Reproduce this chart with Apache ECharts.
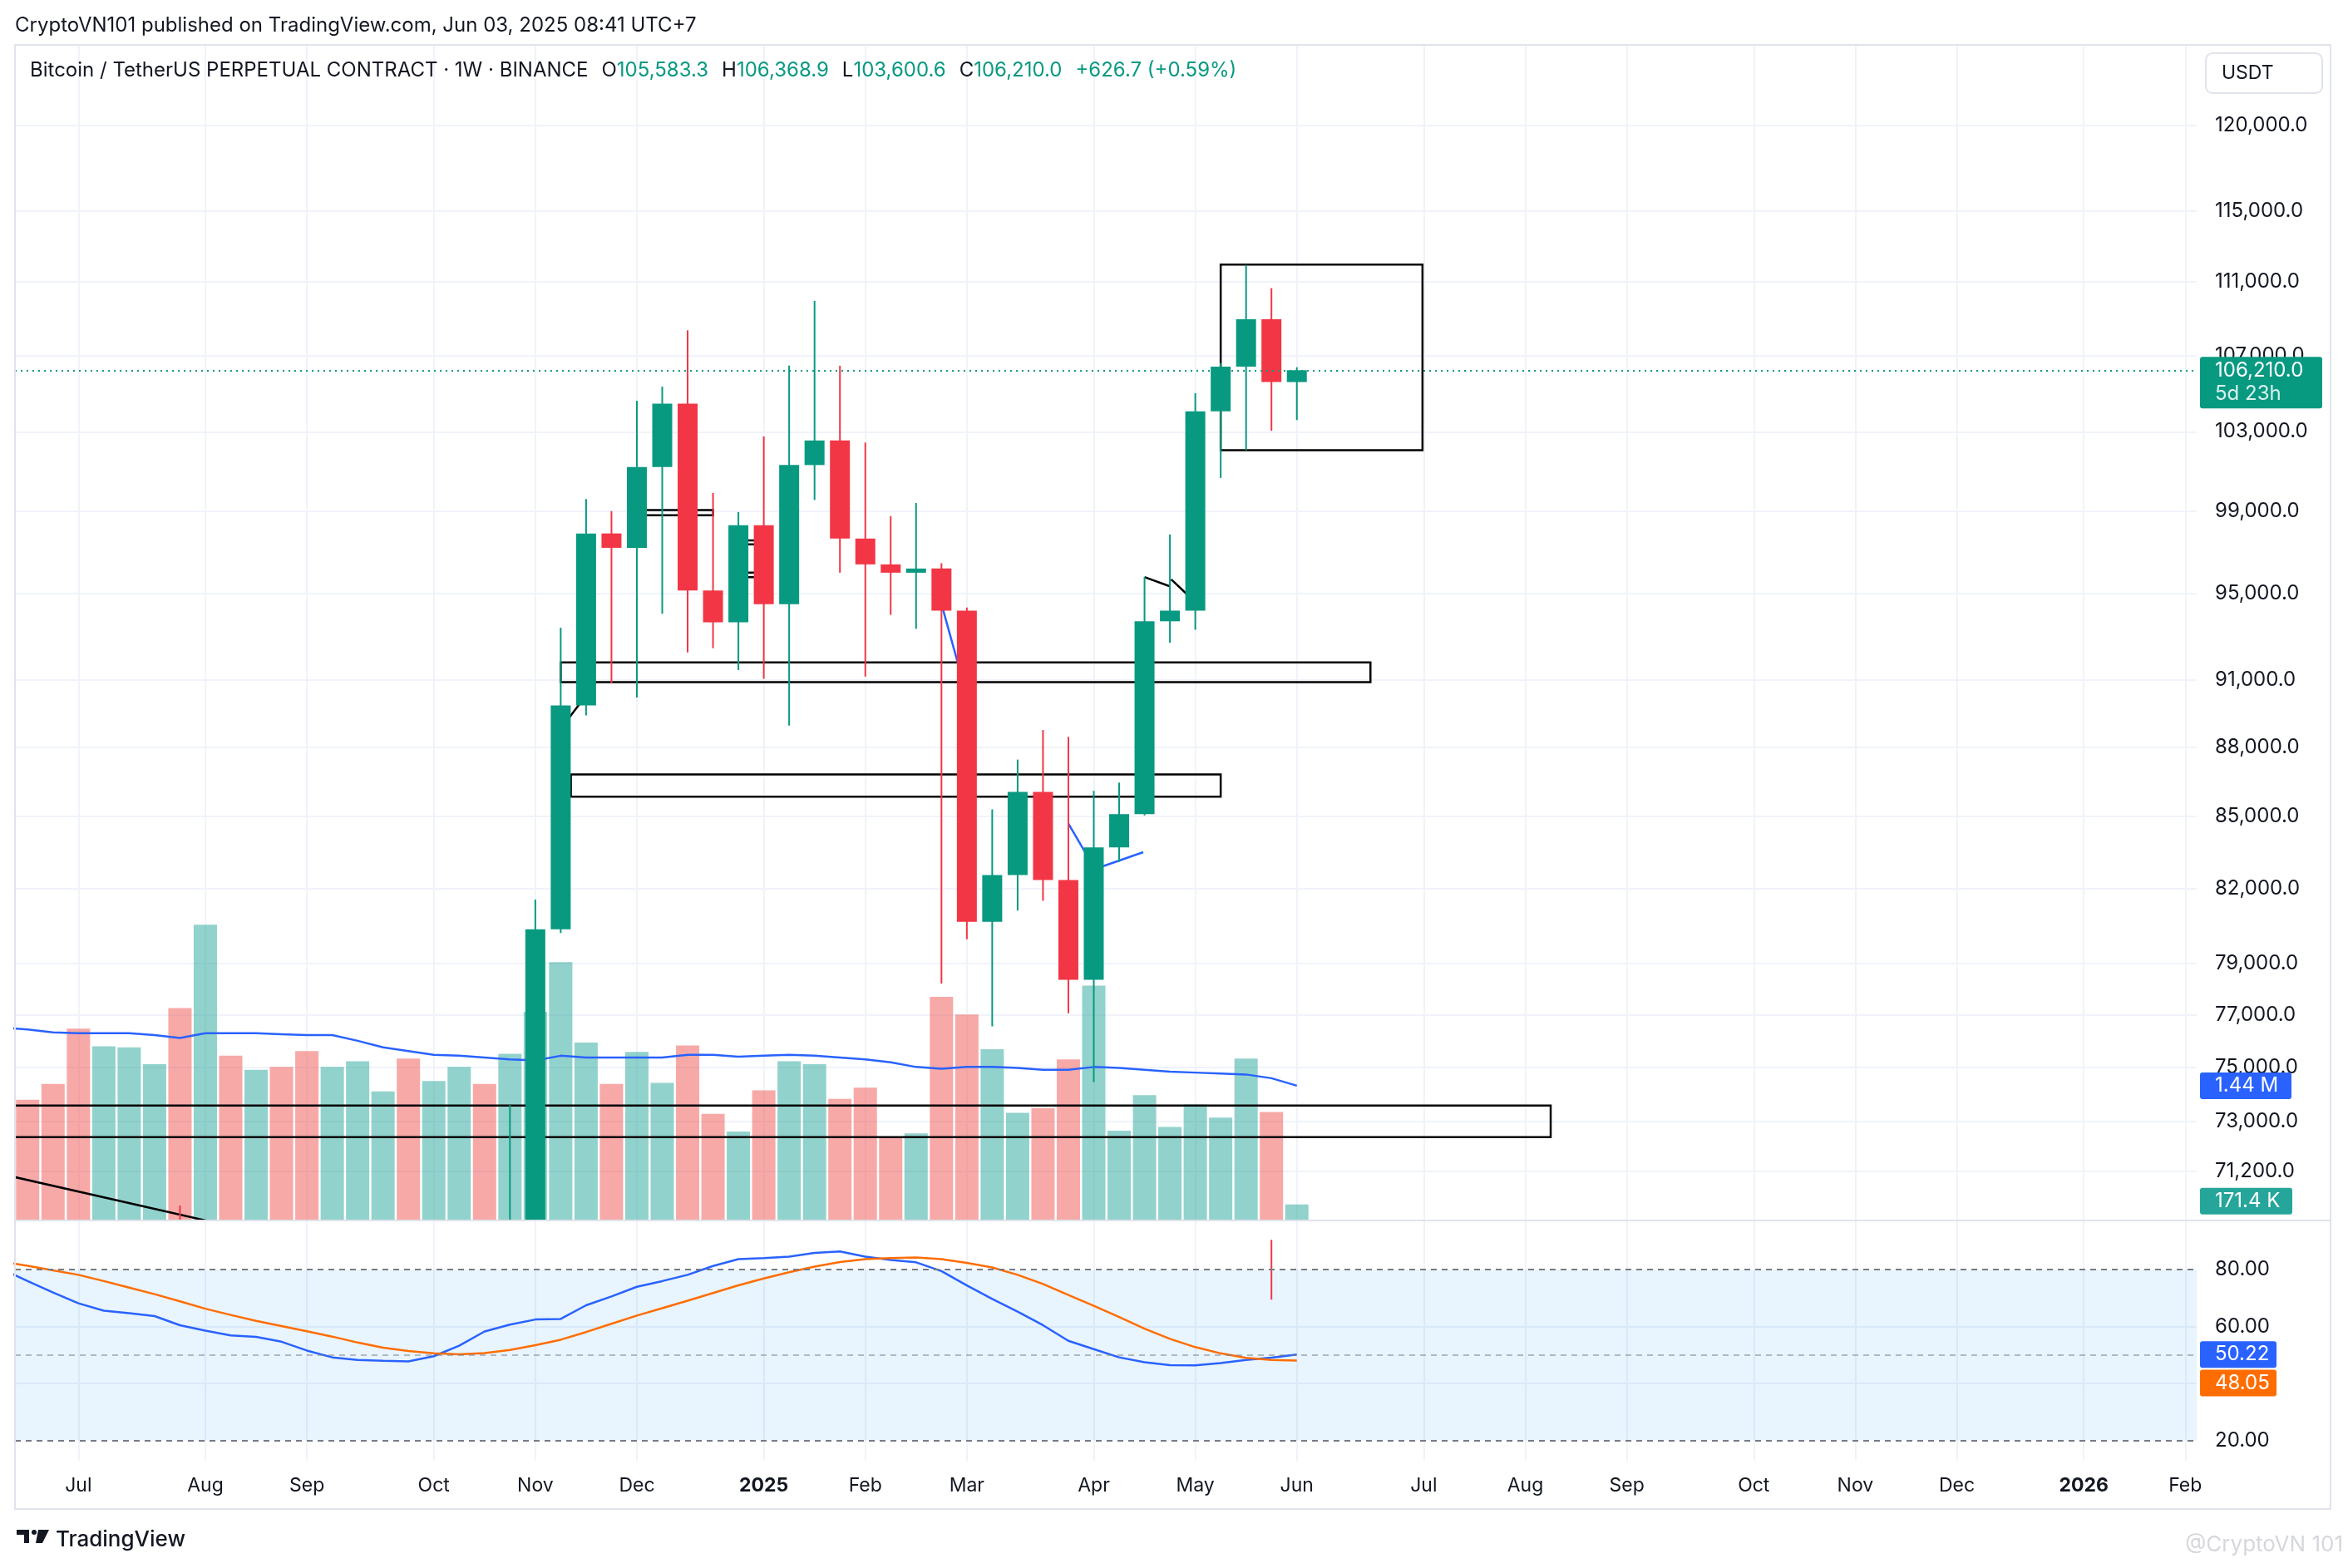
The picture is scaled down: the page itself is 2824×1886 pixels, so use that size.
<!DOCTYPE html>
<html>
<head>
<meta charset="utf-8">
<title>BTCUSDT.P 1W</title>
<script src="https://cdn.jsdelivr.net/npm/echarts@6/dist/echarts.min.js"></script>
<style>
  html, body { margin: 0; padding: 0; background: #fff; }
  #main { width: 2824px; height: 1886px; }
</style>
</head>
<body>
<div id="main"></div>
<script>
// weekly bars, index 0 = week of 2024-06-10 (sits just left of the visible area)
const weekStart = [];
(function () {
  const t0 = Date.UTC(2024, 5, 10);
  for (let i = 0; i < 87; i++) weekStart.push(new Date(t0 + i * 7 * 864e5).toISOString().slice(0, 10));
})();

const opens  = [69650, 66600, 64250, 62700, 55850, 60800, 68150, 68250, 58150, 58700, 58450, 64200, 57300, 54850, 59150, 63550, 65600, 62850, 62900, 69000, 67950, 68750, 80350, 89850, 97900, 97200, 101200, 104450, 95150, 93650, 98300, 94500, 101300, 102550, 97650, 96400, 96000, 96200, 94200, 80650, 82550, 86050, 82350, 78350, 83700, 85100, 93700, 94200, 104050, 106400, 108950, 105583.3];
const highs  = [70190, 66950, 64500, 63800, 61400, 68400, 68480, 70000, 62700, 61800, 65000, 64900, 59800, 60600, 64100, 66500, 65700, 64450, 69400, 69450, 73600, 81550, 93400, 99600, 99000, 104600, 105350, 108350, 99900, 98950, 102750, 106450, 109950, 106450, 102450, 98750, 99400, 96450, 94350, 85300, 87450, 88750, 88450, 86100, 86450, 95800, 97850, 105000, 106600, 111950, 110650, 106368.9];
const lows   = [65060, 63350, 58400, 53500, 54250, 59900, 63400, 57100, 49000, 56100, 57800, 57200, 52500, 54550, 57500, 62700, 59800, 58900, 62500, 65100, 67500, 66800, 80200, 89400, 90850, 90200, 94050, 92250, 92450, 91450, 91050, 88950, 99550, 96000, 91150, 94000, 93350, 78200, 79950, 76550, 81100, 81500, 77050, 74450, 83100, 85050, 92700, 93300, 100650, 102050, 103050, 103600.6];
const closes = [66600, 64250, 62700, 55850, 60800, 68150, 68250, 58150, 58700, 58450, 64200, 57300, 54850, 59150, 63550, 65600, 62850, 62900, 69000, 67950, 68750, 80350, 89850, 97900, 97200, 101200, 104450, 95150, 93650, 98300, 94500, 101300, 102550, 97650, 96400, 96000, 96200, 94200, 80650, 82550, 86050, 82350, 78350, 83700, 85100, 93700, 94200, 104050, 106400, 108950, 105583.3, 106210.0];

// volume in millions, and its moving average
const volumes   = [1.6, 1.29, 1.46, 2.05, 1.86, 1.85, 1.67, 2.27, 3.16, 1.76, 1.61, 1.64, 1.81, 1.64, 1.70, 1.38, 1.73, 1.49, 1.64, 1.46, 1.78, 2.23, 2.76, 1.90, 1.46, 1.80, 1.47, 1.87, 1.14, 0.95, 1.39, 1.70, 1.67, 1.30, 1.42, 0.88, 0.93, 2.39, 2.20, 1.83, 1.15, 1.20, 1.72, 2.51, 0.96, 1.34, 1.00, 1.24, 1.10, 1.73, 1.16, 0.1714];
const volumeMA  = [2.06, 2.04, 2.01, 2.0, 2.0, 2.0, 1.98, 1.95, 2.0, 2.0, 2.0, 1.99, 1.98, 1.98, 1.92, 1.85, 1.81, 1.77, 1.76, 1.74, 1.72, 1.71, 1.76, 1.74, 1.74, 1.74, 1.74, 1.77, 1.77, 1.75, 1.76, 1.77, 1.76, 1.74, 1.72, 1.69, 1.64, 1.62, 1.64, 1.64, 1.63, 1.61, 1.61, 1.64, 1.63, 1.61, 1.59, 1.58, 1.57, 1.56, 1.52, 1.44];

// stoch RSI
const stochK = [80.2, 76, 72, 68.2, 65.6, 64.7, 63.7, 60.5, 58.6, 56.9, 56.4, 54.7, 51.6, 49.2, 48.3, 48, 47.8, 49.6, 53.3, 58.3, 60.7, 62.5, 62.7, 67.5, 70.6, 74, 76, 78.2, 81.3, 83.7, 84.1, 84.6, 85.9, 86.4, 84.6, 83.4, 82.6, 79.5, 74.5, 69.7, 65.3, 60.5, 55, 52.1, 49.2, 47.5, 46.5, 46.4, 47.2, 48.3, 49.1, 50.22];
const stochD = [82.8, 81.4, 79.8, 78.2, 76, 73.7, 71.4, 68.9, 66.3, 64.1, 62, 60.2, 58.4, 56.5, 54.4, 52.6, 51.4, 50.6, 50.3, 50.7, 51.8, 53.5, 55.4, 58.1, 61, 63.9, 66.5, 69.1, 71.8, 74.5, 76.9, 79.1, 81.1, 82.7, 83.7, 84.1, 84.3, 83.7, 82.4, 80.8, 78.2, 75, 71.1, 67.3, 63.4, 59.3, 55.7, 52.8, 50.6, 49, 48.3, 48.05];

// axis ticks
const priceTicks = [120000, 115000, 111000, 107000, 103000, 99000, 95000, 91000, 88000, 85000, 82000, 79000, 77000, 75000, 73000, 71200];
const stochTicks = [20, 40, 60, 80];
const stochGridLevels = [40, 60];
const monthTickIdx = [3, 8, 12, 17, 21, 25, 30, 34, 38, 43, 47, 51, 56, 60, 64, 69, 73, 77, 82, 86];
const monthTickLabels = ['Jul', 'Aug', 'Sep', 'Oct', 'Nov', 'Dec', '2025', 'Feb', 'Mar', 'Apr', 'May', 'Jun', 'Jul', 'Aug', 'Sep', 'Oct', 'Nov', 'Dec', '2026', 'Feb'];

// drawings on the chart: [week0, price0, week1, price1]
const boxes = [
  [48, 102050, 55.95, 111960],
  [22, 90900, 53.9, 91800],
  [22.4, 85850, 48, 86800],
  [0.3, 72430, 61, 73580],
  [25, 98790, 28, 99050],
  [29, 97370, 30, 97560],
  [29, 95790, 30, 96000]
];
const blackSegments = [
  [0, 71100, 8.3, 69420],
  [22, 88800, 23, 90300],
  [45, 95790, 46, 95350],
  [46.05, 95680, 47, 94600]
];
const blueSegments = [
  [37.05, 94300, 38, 90300],
  [42, 84700, 43.05, 82800],
  [43.05, 82800, 44.95, 83500]
];
const stochMarker = [[50, 90.5], [50, 69.5]];

// view ranges
const X_MIN = 0.5, X_MAX = 86.45;
const PRICE_MIN = 69478, PRICE_MAX = 124937;
const VOL_MAX = 12.56e6;
const STOCH_MIN = 12.87, STOCH_MAX = 97.3;

const UP = '#089981', DOWN = '#F23645';
const VOL_UP = 'rgba(38,166,154,0.5)', VOL_DOWN = 'rgba(239,83,80,0.5)';
const TXT = '#131722', GRID = '#f0f3fa', FONT = 'Inter';

const fmt1 = v => v.toLocaleString('en-US', { minimumFractionDigits: 1, maximumFractionDigits: 1 });
const last = closes.length - 1;
const chg = closes[last] - closes[last - 1];

const chart = echarts.init(document.getElementById('main'));

// candles drawn by hand so they get clipped to the pane
function candleRender(params, api) {
  const i = api.value(0), o = api.value(1), c = api.value(2), l = api.value(3), h = api.value(4);
  const pO = api.coord([i, o]), pC = api.coord([i, c]), pL = api.coord([i, l]), pH = api.coord([i, h]);
  const col = c >= o ? UP : DOWN;
  const top = Math.min(pO[1], pC[1]), bot = Math.max(pO[1], pC[1]);
  return {
    type: 'group',
    children: [
      { type: 'line', shape: { x1: pH[0], y1: pH[1], x2: pL[0], y2: pL[1] }, style: { stroke: col, lineWidth: 2 } },
      { type: 'rect', shape: { x: pO[0] - 12, y: top, width: 24, height: Math.max(bot - top, 2) }, style: { fill: col } }
    ]
  };
}
function volRender(params, api) {
  const i = api.value(0);
  const p = api.coord([i, api.value(1)]), b = api.coord([i, 0]);
  return {
    type: 'rect', shape: { x: p[0] - 14, y: p[1], width: 28, height: b[1] - p[1] },
    style: { fill: closes[params.dataIndex] >= opens[params.dataIndex] ? VOL_UP : VOL_DOWN }
  };
}
function rectRender(params, api) {
  const a = api.coord([api.value(0), api.value(1)]);
  const b = api.coord([api.value(2), api.value(3)]);
  return {
    type: 'rect',
    shape: { x: Math.min(a[0], b[0]), y: Math.min(a[1], b[1]), width: Math.abs(b[0] - a[0]), height: Math.abs(b[1] - a[1]) },
    style: { fill: 'none', stroke: '#000', lineWidth: 2.5 }
  };
}
function segRender(color) {
  return function (params, api) {
    const a = api.coord([api.value(0), api.value(1)]);
    const b = api.coord([api.value(2), api.value(3)]);
    return { type: 'line', shape: { x1: a[0], y1: a[1], x2: b[0], y2: b[1] }, style: { stroke: color, lineWidth: 2.5 } };
  };
}
// price-scale tags
function tagSeries(xi, yi, tags) {
  return {
    type: 'custom', xAxisIndex: xi, yAxisIndex: yi, z: 20, silent: true, clip: false,
    data: tags.map(t => [X_MAX, t.value]), encode: { x: 0, y: 1 },
    renderItem: function (params, api) {
      const t = tags[params.dataIndex];
      const p = api.coord([api.value(0), api.value(1)]);
      const x = p[0] + 4, y = p[1] + t.top;
      const kids = [{ type: 'rect', shape: { x: x, y: y, width: t.w, height: t.h, r: 3 }, style: { fill: t.bg } }];
      t.lines.forEach(function (s, k) {
        kids.push({ type: 'text', x: x + 18, y: y + 16 + 28 * k,
          style: { text: s, fill: k ? 'rgba(255,255,255,0.85)' : '#fff', font: '24px Inter', verticalAlign: 'middle', align: 'left' } });
      });
      return { type: 'group', children: kids };
    }
  };
}

const legendText =
  '{n|Bitcoin / TetherUS PERPETUAL CONTRACT · 1W · BINANCE}{s|}' +
  '{n|O}{g|' + fmt1(opens[last]) + '}{s|}{n|H}{g|' + fmt1(highs[last]) + '}{s|}' +
  '{n|L}{g|' + fmt1(lows[last]) + '}{s|}{n|C}{g|' + fmt1(closes[last]) + '}{s|}' +
  '{g|' + (chg >= 0 ? '+' : '') + fmt1(chg) + ' (' + (chg >= 0 ? '+' : '') + (chg / closes[last - 1] * 100).toFixed(2) + '%)}';

chart.setOption({
  animation: false,
  backgroundColor: '#fff',
  textStyle: { fontFamily: FONT },
  grid: [
    { left: 18, top: 54, width: 2624, height: 1414 },
    { left: 18, top: 1468, width: 2624, height: 289 }
  ],
  xAxis: [
    { type: 'value', gridIndex: 0, min: X_MIN, max: X_MAX,
      axisLine: { show: false }, axisTick: { show: false, customValues: monthTickIdx },
      axisLabel: { show: false }, splitLine: { show: true, lineStyle: { color: GRID, width: 2 } } },
    { type: 'value', gridIndex: 1, min: X_MIN, max: X_MAX,
      axisLine: { show: false }, axisTick: { show: false, customValues: monthTickIdx },
      axisLabel: {
        customValues: monthTickIdx, margin: 19, color: TXT, fontSize: 23, fontFamily: FONT,
        formatter: function (v) {
          const s = monthTickLabels[monthTickIdx.indexOf(Math.round(v))] || '';
          return /^\d+$/.test(s) ? '{y|' + s + '}' : s;
        },
        rich: { y: { fontWeight: 'bold', fontSize: 23, fontFamily: FONT, color: TXT } }
      },
      splitLine: { show: true, lineStyle: { color: GRID, width: 2 } } }
  ],
  yAxis: [
    { type: 'log', gridIndex: 0, min: PRICE_MIN, max: PRICE_MAX, position: 'right', show: false },
    { type: 'value', gridIndex: 0, min: Math.log(PRICE_MIN), max: Math.log(PRICE_MAX), position: 'right',
      axisLine: { show: false }, axisTick: { show: false, customValues: priceTicks.map(Math.log) },
      axisLabel: { customValues: priceTicks.map(Math.log), align: 'left', margin: 22, color: TXT, fontSize: 24, fontFamily: FONT,
        formatter: v => fmt1(Math.round(Math.exp(v) * 10) / 10) },
      splitLine: { show: true, lineStyle: { color: GRID, width: 2 } } },
    { type: 'value', gridIndex: 0, min: 0, max: VOL_MAX, position: 'right', show: false },
    { type: 'value', gridIndex: 1, min: STOCH_MIN, max: STOCH_MAX, position: 'right',
      axisLine: { show: false }, axisTick: { show: false, customValues: stochGridLevels },
      axisLabel: { customValues: stochTicks, align: 'left', margin: 22, color: TXT, fontSize: 24, fontFamily: FONT,
        formatter: v => v.toFixed(2) },
      splitLine: { show: true, lineStyle: { color: GRID, width: 2 } } }
  ],
  series: [
    { type: 'custom', name: 'Volume', xAxisIndex: 0, yAxisIndex: 2, z: 1, silent: true, clip: true,
      data: volumes.map((v, i) => [i, v * 1e6]), encode: { x: 0, y: 1 }, renderItem: volRender },
    { type: 'line', name: 'Volume MA', xAxisIndex: 0, yAxisIndex: 2, z: 2, silent: true, clip: true, symbol: 'none',
      data: volumeMA.map((v, i) => [i, v * 1e6]), lineStyle: { color: '#2962FF', width: 2.5 } },
    { type: 'custom', xAxisIndex: 0, yAxisIndex: 0, z: 2, silent: true, clip: true,
      data: boxes, encode: { x: [0, 2], y: [1, 3] }, renderItem: rectRender },
    { type: 'custom', xAxisIndex: 0, yAxisIndex: 0, z: 2, silent: true, clip: true,
      data: blackSegments, encode: { x: [0, 2], y: [1, 3] }, renderItem: segRender('#000') },
    { type: 'custom', xAxisIndex: 0, yAxisIndex: 0, z: 2, silent: true, clip: true,
      data: blueSegments, encode: { x: [0, 2], y: [1, 3] }, renderItem: segRender('#2962FF') },
    { type: 'custom', name: 'BTCUSDT.P', xAxisIndex: 0, yAxisIndex: 0, z: 3, silent: true, clip: true,
      data: opens.map((o, i) => [i, o, closes[i], lows[i], highs[i]]), encode: { x: 0, y: [1, 2, 3, 4] },
      renderItem: candleRender,
      markLine: { silent: true, symbol: ['none', 'none'], label: { show: false },
        lineStyle: { color: UP, type: [2, 5], width: 2 }, data: [{ yAxis: closes[last] }] } },
    tagSeries(0, 0, [{ value: closes[last], lines: [fmt1(closes[last]), '5d 23h'], bg: UP, w: 147, h: 62, top: -16 }]),
    tagSeries(0, 2, [
      { value: volumeMA[last] * 1e6, lines: [volumeMA[last].toFixed(2) + ' M'], bg: '#2962FF', w: 110, h: 32, top: -16 },
      { value: volumes[last] * 1e6, lines: [(volumes[last] * 1000).toFixed(1) + ' K'], bg: '#26a69a', w: 111, h: 32, top: -20 }
    ]),
    { type: 'line', name: 'K', xAxisIndex: 1, yAxisIndex: 3, z: 3, silent: true, clip: true, symbol: 'none',
      data: stochK.map((v, i) => [i, v]), lineStyle: { color: '#2962FF', width: 2.5 },
      markArea: { silent: true, itemStyle: { color: 'rgba(33,150,243,0.1)' }, data: [[{ yAxis: 80 }, { yAxis: 20 }]] },
      markLine: { silent: true, symbol: ['none', 'none'], label: { show: false },
        data: [
          { yAxis: 80, lineStyle: { color: '#787B86', type: [7, 6], width: 2 } },
          { yAxis: 50, lineStyle: { color: 'rgba(120,123,134,0.5)', type: [7, 6], width: 2 } },
          { yAxis: 20, lineStyle: { color: '#787B86', type: [7, 6], width: 2 } }
        ] } },
    { type: 'line', name: 'D', xAxisIndex: 1, yAxisIndex: 3, z: 3, silent: true, clip: true, symbol: 'none',
      data: stochD.map((v, i) => [i, v]), lineStyle: { color: '#FF6D00', width: 2.5 } },
    { type: 'line', xAxisIndex: 1, yAxisIndex: 3, z: 4, silent: true, symbol: 'none',
      data: stochMarker, lineStyle: { color: DOWN, width: 2 } },
    tagSeries(1, 3, [
      { value: stochK[last], lines: [stochK[last].toFixed(2)], bg: '#2962FF', w: 92, h: 32, top: -16 },
      { value: stochD[last], lines: [stochD[last].toFixed(2)], bg: '#FF6D00', w: 92, h: 32, top: 11 }
    ])
  ],
  graphic: [
    { type: 'text', x: 18, y: 31, z: 50,
      style: { text: 'CryptoVN101 published on TradingView.com, Jun 03, 2025 08:41 UTC+7', fill: TXT, font: '24px Inter', verticalAlign: 'middle' } },
    { type: 'rect', z: 50, silent: true, shape: { x: 18, y: 54, width: 2785, height: 1761 },
      style: { fill: 'none', stroke: '#e0e3eb', lineWidth: 2 } },
    { type: 'line', z: 50, silent: true, shape: { x1: 18, y1: 1468, x2: 2803, y2: 1468 },
      style: { stroke: '#e0e3eb', lineWidth: 2 } },
    { type: 'rect', z: 50, shape: { x: 2653, y: 64, width: 140, height: 48, r: 8 },
      style: { fill: '#fff', stroke: '#e0e3eb', lineWidth: 2 } },
    { type: 'text', x: 2672, y: 88, z: 51, style: { text: 'USDT', fill: TXT, font: '23px Inter', verticalAlign: 'middle' } },
    { type: 'text', x: 36, y: 85, z: 50,
      style: { text: legendText, verticalAlign: 'middle',
        rich: {
          n: { fill: TXT, fontSize: 24, fontFamily: FONT },
          g: { fill: UP, fontSize: 24, fontFamily: FONT },
          s: { width: 16 }
        } } },
    { type: 'polygon', z: 50, shape: { points: [[20, 1840], [35, 1840], [35, 1856], [29, 1856], [29, 1846], [20, 1846]] }, style: { fill: TXT } },
    { type: 'circle', z: 50, shape: { cx: 41, cy: 1843, r: 3 }, style: { fill: TXT } },
    { type: 'polygon', z: 50, shape: { points: [[46, 1840], [59, 1840], [51, 1856], [43, 1856]] }, style: { fill: TXT } },
    { type: 'text', x: 67, y: 1852, z: 50, style: { text: 'TradingView', fill: TXT, font: '500 26px Inter', verticalAlign: 'middle' } },
    { type: 'text', x: 2818, y: 1858, z: 50, style: { text: '@CryptoVN 101', fill: '#d5d7dc', font: '26px Inter', align: 'right', verticalAlign: 'middle' } }
  ]
});
</script>
</body>
</html>
